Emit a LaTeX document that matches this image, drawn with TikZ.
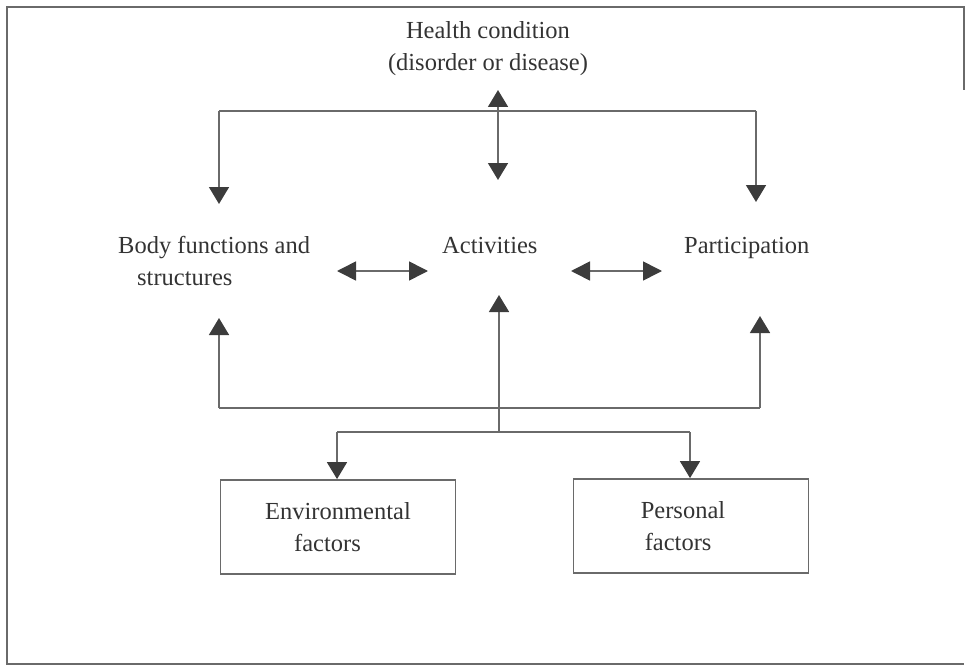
\documentclass[tikz,border=0pt]{standalone}
\usepackage{fontspec}
\setmainfont{Liberation Serif}
\usetikzlibrary{arrows.meta}
\definecolor{txt}{HTML}{333333}
\definecolor{lncol}{HTML}{6A6A6A}
\definecolor{tipcol}{HTML}{3C3C3C}
\begin{document}
\begin{tikzpicture}[x=1pt,y=-1pt,
  lbl/.style={inner sep=0pt, text=txt, font=\fontsize{24.5}{32}\selectfont},
  ln/.style={draw=lncol, line width=1.6pt},
  arr/.style={ln, -{Triangle[length=17pt,width=20pt,color=tipcol]}},
  darr/.style={ln, {Triangle[length=19pt,width=19pt,color=tipcol]}-{Triangle[length=19pt,width=19pt,color=tipcol]}},
  factbox/.style={draw=lncol, line width=1.8pt, minimum width=235pt, minimum height=94pt,
    align=left, inner sep=0pt, text=txt, font=\fontsize{24.5}{32}\selectfont}]
\useasboundingbox (0,0) rectangle (966,666);
% outer frame
\draw[ln, line width=1.5pt] (964,90) -- (964,7) -- (7,7) -- (7,664) -- (964,664);
% labels
\node[lbl, align=center, anchor=base] (hc) at (488,71) {Health condition\\(disorder or disease)};
\node[lbl, align=left, anchor=base west] (body) at (118,285) {Body functions and\\\hspace*{19pt}structures};
\node[lbl, anchor=base west] (act) at (442,253) {Activities};
\node[lbl, anchor=base west] (part) at (684,253) {Participation};
% boxes
\node[factbox] (env) at (338,527) {Environmental\\\hspace*{29pt}factors};
\node[factbox] (pers) at (691,526) {Personal\hspace*{16pt}\\\hspace*{4pt}factors};
% coordinates
\coordinate (jtop) at (498,111);
\coordinate (tl) at (219,111);
\coordinate (tr) at (756,111);
\coordinate (hcin) at (498,90);
\coordinate (actin) at (498,180);
\coordinate (bodyin) at (219,204);
\coordinate (partin) at (756,202);
\coordinate (bodyr) at (337,271);
\coordinate (actl) at (428,271);
\coordinate (actr) at (571,271);
\coordinate (partl) at (662,271);
\coordinate (jbot) at (499,408);
\coordinate (bl) at (219,408);
\coordinate (br) at (760,408);
\coordinate (bodyup) at (219,318);
\coordinate (actup) at (499,295);
\coordinate (partup) at (760,316);
\coordinate (jlow) at (499,432);
\coordinate (ll) at (337,432);
\coordinate (lr) at (690,432);
% top connectors
\draw[ln] (tl) -- (tr);
\draw[arr] (jtop) -- (hcin);
\draw[arr] (jtop) -- (actin);
\draw[arr] (tl) -- (bodyin);
\draw[arr] (tr) -- (partin);
% middle double arrows
\draw[darr] (bodyr) -- (actl);
\draw[darr] (actr) -- (partl);
% bottom connectors
\draw[ln] (bl) -- (br);
\draw[arr] (bl) -- (bodyup);
\draw[arr] (br) -- (partup);
\draw[arr] (jlow) -- (actup);
\draw[ln] (ll) -- (lr);
\draw[arr] (ll) -- (ll |- env.north);
\draw[arr] (lr) -- (lr |- pers.north);
\end{tikzpicture}
\end{document}
